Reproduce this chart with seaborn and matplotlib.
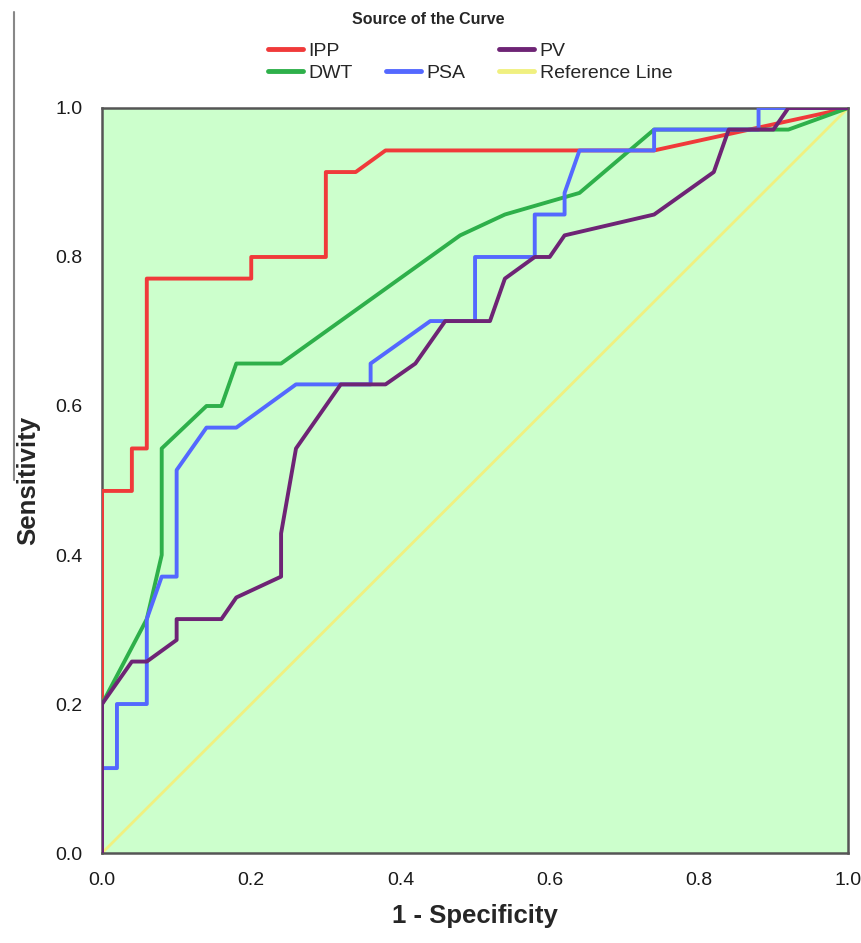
import matplotlib
matplotlib.use('Agg')
import matplotlib.pyplot as plt
from matplotlib.lines import Line2D
import pandas as pd
import seaborn as sns

# ROC points (1 - specificity, sensitivity)
ipp_x = [0.0, 0.0, 0.04, 0.04, 0.06, 0.06, 0.20, 0.20, 0.30, 0.30, 0.34, 0.38, 0.74, 1.0]
ipp_y = [0.0, 0.486, 0.486, 0.543, 0.543, 0.771, 0.771, 0.80, 0.80, 0.914, 0.914, 0.943, 0.943, 1.0]

dwt_x = [0.0, 0.0, 0.06, 0.08, 0.08, 0.14, 0.16, 0.18, 0.24, 0.48, 0.54, 0.64, 0.74, 0.92, 1.0]
dwt_y = [0.0, 0.20, 0.314, 0.40, 0.543, 0.60, 0.60, 0.657, 0.657, 0.829, 0.857, 0.886, 0.971, 0.971, 1.0]

psa_x = [0.0, 0.0, 0.02, 0.02, 0.06, 0.06, 0.08, 0.10, 0.10, 0.14, 0.18, 0.26, 0.36, 0.36, 0.44,
         0.50, 0.50, 0.58, 0.58, 0.62, 0.62, 0.64, 0.74, 0.74, 0.88, 0.88, 1.0]
psa_y = [0.0, 0.114, 0.114, 0.20, 0.20, 0.314, 0.371, 0.371, 0.514, 0.571, 0.571, 0.629, 0.629, 0.657, 0.714,
         0.714, 0.80, 0.80, 0.857, 0.857, 0.886, 0.943, 0.943, 0.971, 0.971, 1.0, 1.0]

pv_x = [0.0, 0.0, 0.04, 0.06, 0.10, 0.10, 0.16, 0.18, 0.24, 0.24, 0.26, 0.32, 0.38, 0.42, 0.46,
        0.52, 0.54, 0.58, 0.60, 0.62, 0.74, 0.82, 0.84, 0.90, 0.92, 1.0]
pv_y = [0.0, 0.20, 0.257, 0.257, 0.286, 0.314, 0.314, 0.343, 0.371, 0.429, 0.543, 0.629, 0.629, 0.657, 0.714,
        0.714, 0.771, 0.80, 0.80, 0.829, 0.857, 0.914, 0.971, 0.971, 1.0, 1.0]

ref_x = [0.0, 1.0]
ref_y = [0.0, 1.0]

curves = ['IPP', 'DWT', 'PSA', 'PV', 'Reference Line']
colors = {'IPP': '#f03a3a', 'DWT': '#2eb04a', 'PSA': '#5468ff',
          'PV': '#6e2475', 'Reference Line': '#f0f080'}

frames = []
for name, xs, ys in [('IPP', ipp_x, ipp_y), ('DWT', dwt_x, dwt_y), ('PSA', psa_x, psa_y),
                     ('PV', pv_x, pv_y), ('Reference Line', ref_x, ref_y)]:
    frames.append(pd.DataFrame({'fpr': xs, 'tpr': ys, 'curve': name}))
df = pd.concat(frames, ignore_index=True)

sns.set_style('white')
plt.rcParams['font.family'] = ['Liberation Sans', 'DejaVu Sans']

fig = plt.figure(figsize=(8.61, 9.43), dpi=100)
ax = fig.add_axes([0.1185, 0.0954, 0.8665, 0.7901])
ax.set_facecolor('#ccffcc')

# reference line first so the ROC curves sit on top of it
sns.lineplot(data=df[df['curve'] == 'Reference Line'], x='fpr', y='tpr', color=colors['Reference Line'],
             lw=2, sort=False, estimator=None, ax=ax, legend=False, zorder=2)
sns.lineplot(data=df[df['curve'] != 'Reference Line'], x='fpr', y='tpr', hue='curve',
             hue_order=curves[:4], palette=colors, lw=2.8, sort=False, estimator=None,
             ax=ax, legend=False, zorder=3)

ax.set_xlim(0, 1)
ax.set_ylim(0, 1)
ax.set_xticks([0, 0.2, 0.4, 0.6, 0.8, 1.0])
ax.set_yticks([0, 0.2, 0.4, 0.6, 0.8, 1.0])
ax.set_xticklabels(['0.0', '0.2', '0.4', '0.6', '0.8', '1.0'])
ax.set_yticklabels(['0.0', '0.2', '0.4', '0.6', '0.8', '1.0'])
ax.tick_params(direction='out', length=8, width=1.6, color='#444444', labelsize=14,
               labelcolor='#1a1a1a', pad=6)
for s in ax.spines.values():
    s.set_color('#555555')
    s.set_linewidth(1.8)

ax.set_xlabel('1 - Specificity', fontsize=18.5, fontweight='bold')
ax.set_ylabel('Sensitivity', fontsize=18.5, fontweight='bold')
ax.xaxis.set_label_coords(0.5, -0.068)
ax.yaxis.set_label_coords(-0.083, 0.5)

# legend laid out like the SPSS one: blank slot keeps PSA on the second row
blank = Line2D([], [], color='none')
handles = [Line2D([], [], color=colors['IPP'], lw=3.5),
           Line2D([], [], color=colors['DWT'], lw=3.5),
           blank,
           Line2D([], [], color=colors['PSA'], lw=3.5),
           Line2D([], [], color=colors['PV'], lw=3.5),
           Line2D([], [], color=colors['Reference Line'], lw=3.5)]
labels = ['IPP', 'DWT', '', 'PSA', 'PV', 'Reference Line']
fig.legend(handles, labels, ncol=3, loc='center', bbox_to_anchor=(470 / 861, 1 - 62 / 943),
           frameon=False, fontsize=14, handlelength=1.8, handletextpad=0.3,
           columnspacing=1.7, labelspacing=0.2, borderpad=0)
fig.text(428 / 861, 1 - 20 / 943, 'Source of the Curve', ha='center', va='center',
         fontsize=11.5, fontweight='bold')

# thin grey rule at the left edge of the original page
fig.add_artist(Line2D([14 / 861, 14 / 861], [1 - 12 / 943, 1 - 480 / 943],
                      color='#888888', lw=1.5, transform=fig.transFigure))

fig.savefig('out.png', dpi=100)
